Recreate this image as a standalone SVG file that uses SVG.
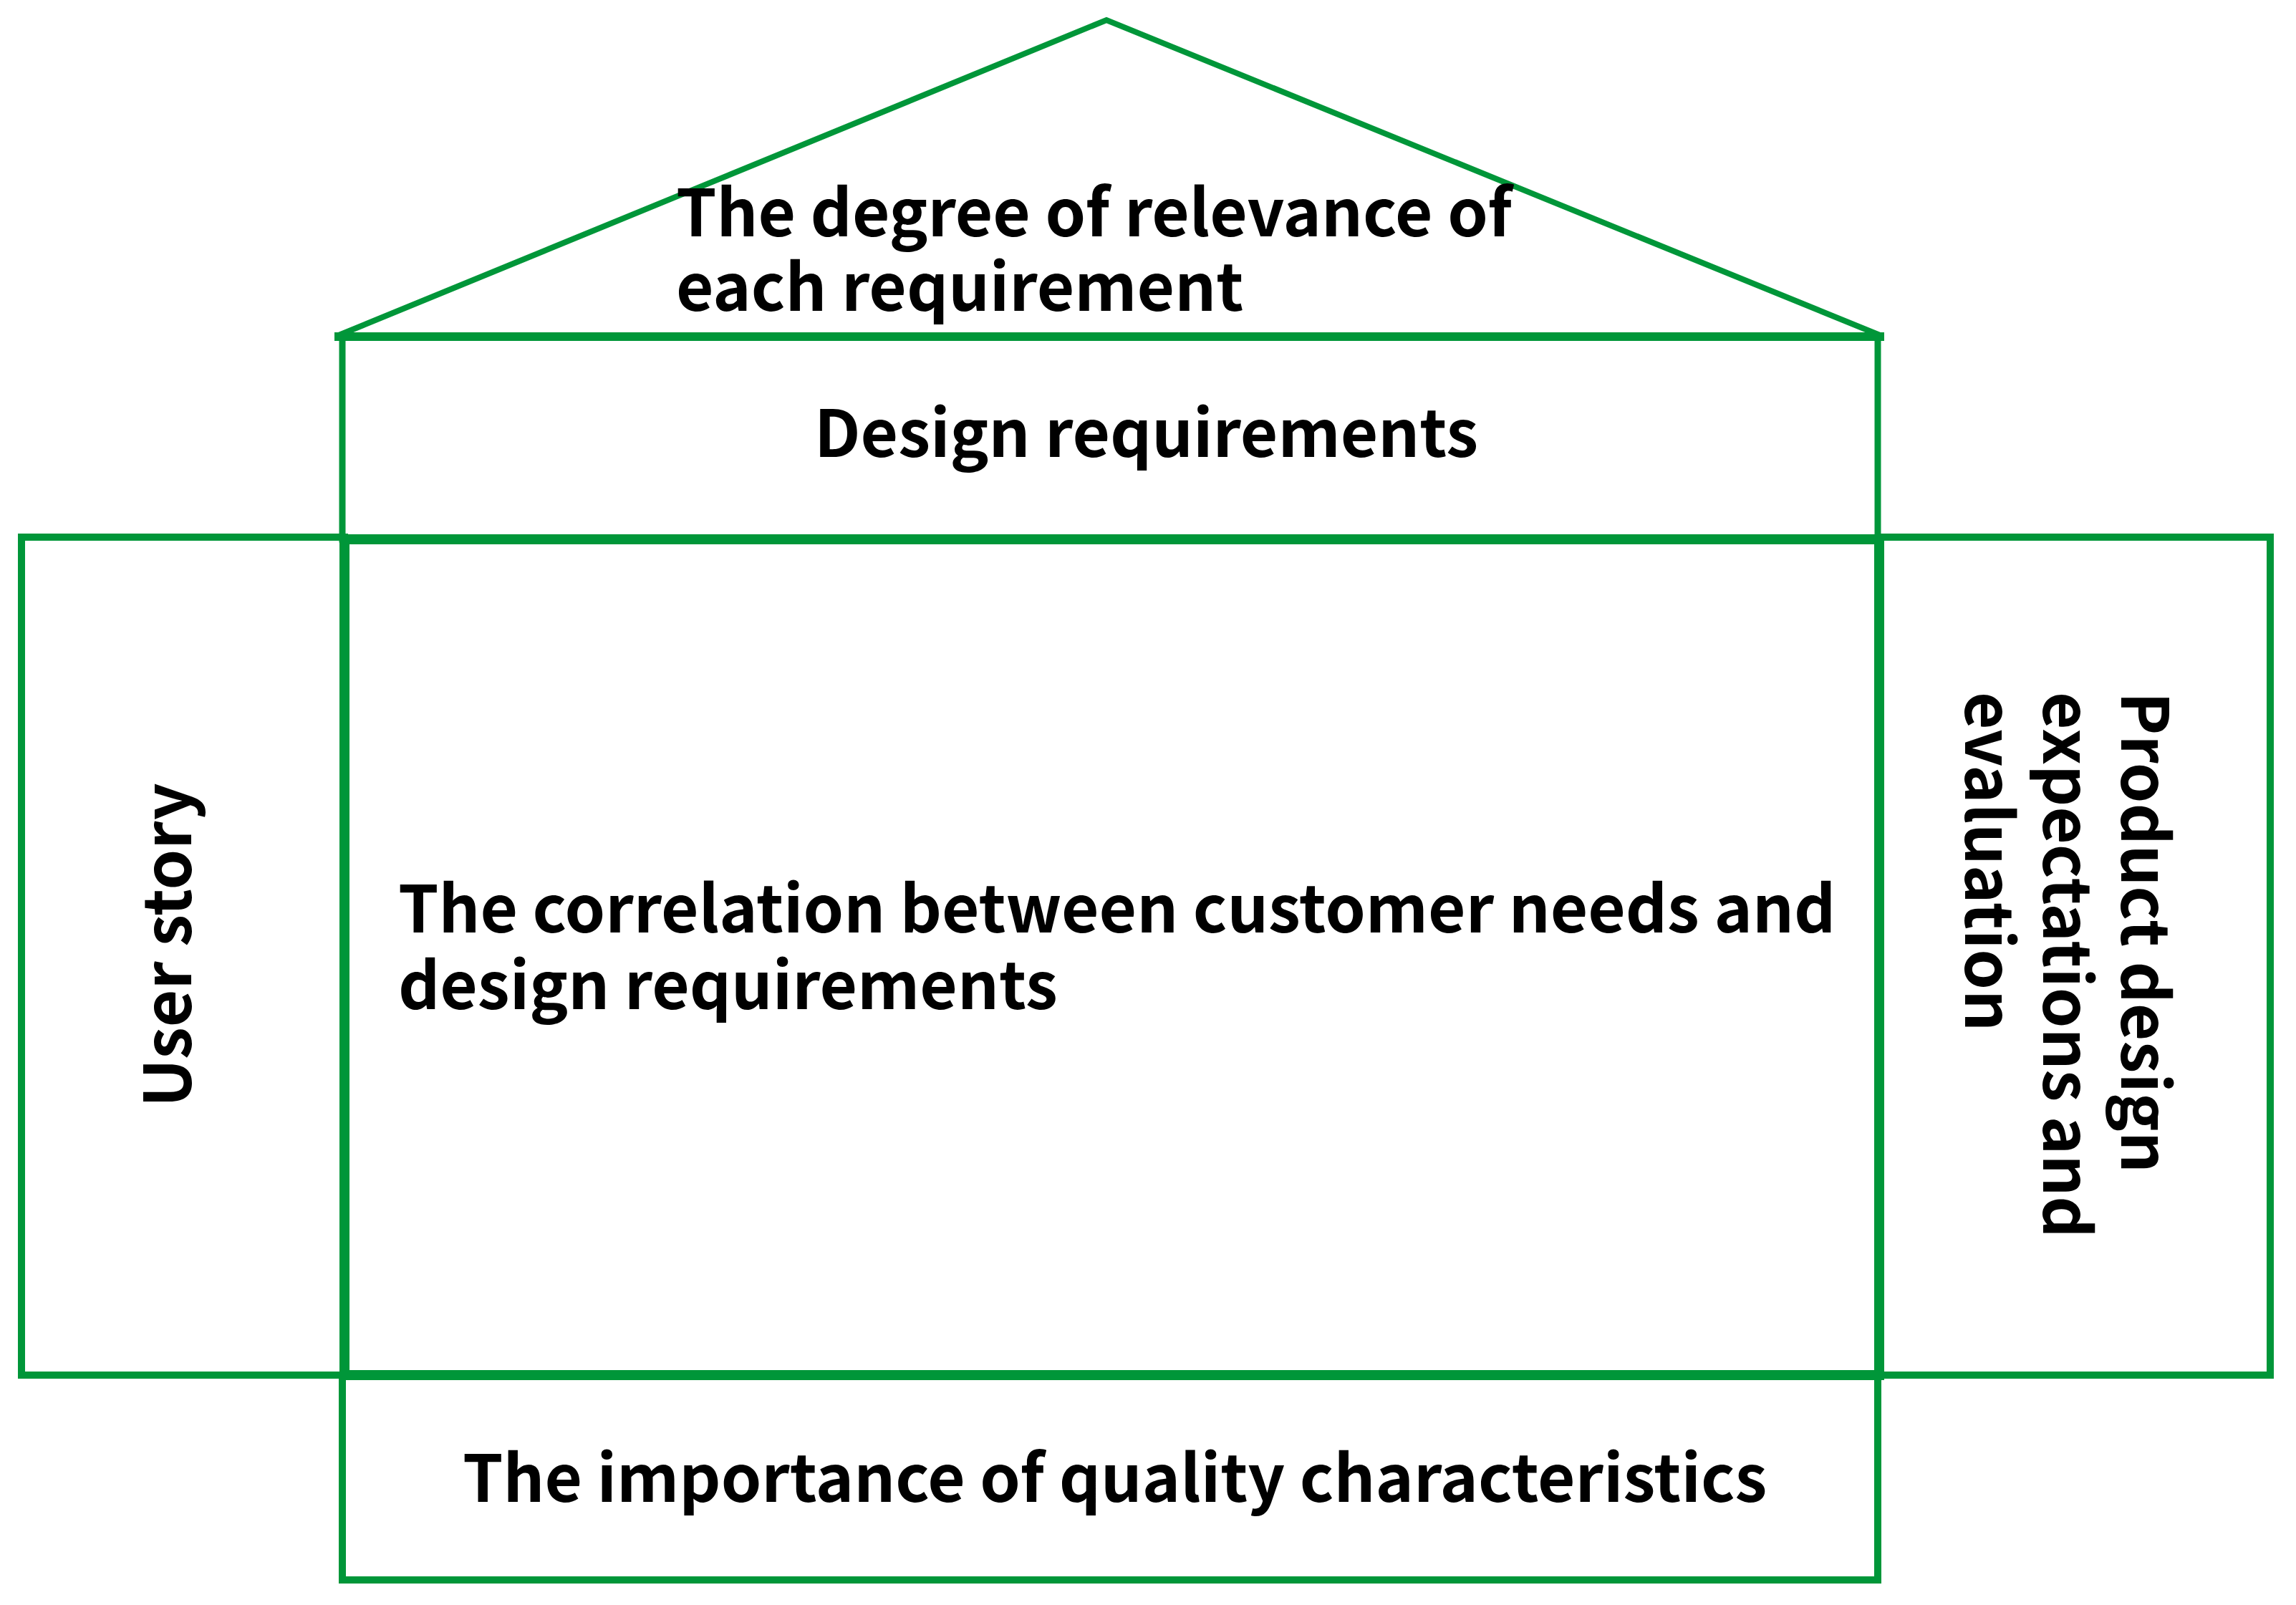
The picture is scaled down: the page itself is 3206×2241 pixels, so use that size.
<svg xmlns="http://www.w3.org/2000/svg" width="3206" height="2241" viewBox="0 0 3206 2241">
<style>
.ln{fill:none;stroke:#009639;stroke-linejoin:miter;stroke-linecap:square}
.t{font-family:"Noto Sans CJK SC","Source Sans Pro","Noto Sans",sans-serif;font-weight:700;font-size:90.5px;fill:#000}
</style>
<rect width="3206" height="2241" fill="#fff"/>
<g id="roof">
<polyline class="ln" stroke-width="8" points="473,468 1545,28 2625,468"/>
<text class="t"><tspan x="944" y="330">The degree of relevance of</tspan><tspan x="944" y="434">each requirement</tspan></text>
</g>
<g id="design-requirements">
<rect class="ln" stroke-width="9" x="478" y="470" width="2144" height="283"/>
<text class="t" x="1137" y="638">Design requirements</text>
</g>
<g id="user-story">
<rect class="ln" stroke-width="10" x="30" y="750" width="451" height="1170"/>
<text class="t" transform="translate(267,1546) rotate(-90)">User story</text>
</g>
<g id="product-design">
<rect class="ln" stroke-width="10" x="2624" y="750" width="546" height="1170"/>
<text class="t" transform="translate(2962,966) rotate(90)"><tspan x="0" y="0">Product design</tspan><tspan x="0" y="109">expectations and</tspan><tspan x="0" y="218">evaluation</tspan></text>
</g>
<g id="importance">
<rect class="ln" stroke-width="10" x="478" y="1920" width="2144" height="286"/>
<text class="t" x="646" y="2097">The importance of quality characteristics</text>
</g>
<g id="correlation">
<rect class="ln" stroke-width="14" x="481" y="753" width="2143" height="1167"/>
<text class="t"><tspan x="556" y="1302">The correlation between customer needs and</tspan><tspan x="556" y="1409">design requirements</tspan></text>
</g>
<g id="connectors">
<line class="ln" stroke-width="12" x1="473" y1="470" x2="2625" y2="470"/>
</g>
</svg>
